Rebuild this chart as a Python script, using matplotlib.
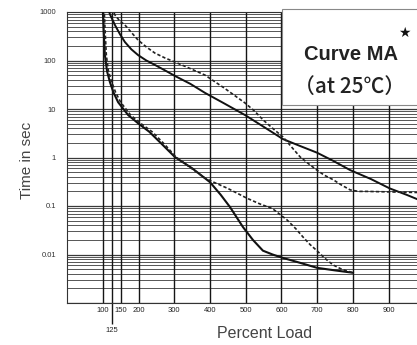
import numpy as np
import matplotlib
matplotlib.use('Agg')
from matplotlib import pyplot as plt
from matplotlib import font_manager

# pick a narrow font for the numbers if one is installed
names = set(f.name for f in font_manager.fontManager.ttflist)
num_font = 'Liberation Sans'
for cand in ['Liberation Sans Narrow', 'DejaVu Sans Condensed']:
    if cand in names:
        num_font = cand
        break

# curve data (percent load, time in sec)
a_solid_pct = [100, 102, 106, 112, 120, 130, 143, 171, 200, 230, 265, 302, 350, 400, 430, 456,
               492, 520, 548, 575, 604, 650, 700, 750, 800]
a_solid_t   = [1200, 500, 129, 60, 36, 22, 13.8, 7.5, 5.0, 3.4, 1.9, 1.02, 0.60, 0.31, 0.17, 0.095,
               0.037, 0.020, 0.012, 0.010, 0.0085, 0.0068, 0.0053, 0.0047, 0.0042]

a_dash_pct = [104, 106, 110, 116, 125, 136, 150, 178, 207, 238, 272, 305, 345, 385, 410, 450,
              503, 540, 575, 615, 640, 660, 680, 699, 720, 744, 770, 800]
a_dash_t   = [1200, 500, 129, 60, 36, 22, 13.8, 7.5, 5.0, 3.4, 1.9, 1.02, 0.62, 0.38, 0.31, 0.23,
              0.145, 0.11, 0.088, 0.052, 0.034, 0.023, 0.016, 0.012, 0.0085, 0.0061, 0.0049, 0.0042]

b_solid_pct = [115, 120, 134, 148, 162, 180, 199, 222, 246, 275, 302, 345, 386, 440, 498, 550,
               604, 650, 699, 745, 792, 850, 903, 950, 1000]
b_solid_t   = [1200, 900, 540, 350, 240, 170, 129, 100, 81, 62, 48, 33, 21.5, 13.0, 7.5, 4.3,
               2.4, 1.75, 1.26, 0.85, 0.55, 0.36, 0.23, 0.17, 0.12]

b_dash_pct = [124, 135, 148, 162, 180, 199, 222, 246, 275, 302, 345, 386, 440, 498, 525, 548,
              575, 604, 628, 652, 675, 699, 720, 744, 768, 792, 815, 839, 903, 979, 1000]
b_dash_t   = [1200, 850, 650, 540, 380, 263, 190, 142, 112, 93, 68, 50, 27, 13.3, 9.0, 6.0,
              4.0, 2.66, 1.65, 1.03, 0.75, 0.55, 0.43, 0.35, 0.27, 0.215, 0.20, 0.20, 0.195, 0.19, 0.185]

vlines = [100, 125, 150, 200, 300, 400, 500, 600, 700, 800, 900, 1000]
xtick_vals = [100, 150, 200, 300, 400, 500, 600, 700, 800, 900, 1000]
ytick_vals = [0.01, 0.1, 1, 10, 100, 1000]
ytick_labels = ['0.01', '0.1', '1', '10', '100', '1000']

fig = plt.figure(figsize=(4.17, 3.45), dpi=100)
ax = fig.add_axes([67/417, 42/345, 357.5/417, 291/345])

ax.set_yscale('log')
ax.set_xlim(0, 1000)
ax.set_ylim(1e-3, 1000)

# grid
for dec in range(-3, 3):
    for m in range(1, 10):
        v = m * 10.0**dec
        ax.axhline(v, color='#3a3a3a', lw=0.6 if m > 1 else 0.9, zorder=1)
for v in vlines:
    ax.axvline(v, color='#151515', lw=1.0, zorder=1)

ax.plot(a_solid_pct, a_solid_t, color='#111111', lw=1.5, zorder=3)
ax.plot(a_dash_pct, a_dash_t, color='#222222', lw=1.2, ls=(0, (2, 1.3)), zorder=3)
ax.plot(b_solid_pct, b_solid_t, color='#111111', lw=1.4, zorder=3)
ax.plot(b_dash_pct, b_dash_t, color='#222222', lw=1.2, ls=(0, (2, 1.3)), zorder=3)

# legend box
box = plt.Rectangle((0.6, 0.68), 0.6, 0.33, transform=ax.transAxes,
                    facecolor='white', edgecolor='#888888', lw=0.8, zorder=5, clip_on=False)
ax.add_patch(box)
fig.text(351/417, 1 - 55/345, 'Curve MA', ha='center', va='center',
         fontsize=14.5, fontweight='bold', family='Liberation Sans', color='#222222', zorder=6)
fig.text(350/417, 1 - 87/345, '（at 25℃）', ha='center', va='center',
         fontsize=15, fontweight='medium', family=['Noto Sans CJK JP', 'DejaVu Sans'],
         color='#222222', zorder=6)
fig.text(404/417, 1 - 33/345, '★', ha='center', va='center',
         fontsize=10, family='DejaVu Sans', color='#111111', zorder=6)

# ticks
ax.set_xticks(xtick_vals)
ax.set_xticklabels([str(v) for v in xtick_vals], fontsize=5.5, family=num_font, color='#222222')
ax.set_xticks([125], minor=True)
ax.set_xticklabels(['125'], minor=True, fontsize=5.5, family=num_font, color='#222222')
ax.tick_params(axis='x', which='major', length=0, pad=3)
ax.tick_params(axis='x', which='minor', length=15, width=1.0, color='#151515', pad=2)

ax.set_yticks(ytick_vals)
ax.set_yticklabels(ytick_labels, fontsize=5.5, family=num_font, color='#333333')
ax.yaxis.set_minor_locator(matplotlib.ticker.NullLocator())
ax.tick_params(axis='y', which='major', length=0, pad=8)

for s in ax.spines.values():
    s.set_color('#333333')
    s.set_linewidth(0.8)

fig.text(27/417, 1 - 160/345, 'Time in sec', rotation=90, ha='center', va='center',
         fontsize=11, family='Liberation Sans', color='#444444')
fig.text(265/417, 1 - 333/345, 'Percent Load', ha='center', va='center',
         fontsize=11.5, family='Liberation Sans', color='#444444')

fig.savefig('out.png', dpi=100)
